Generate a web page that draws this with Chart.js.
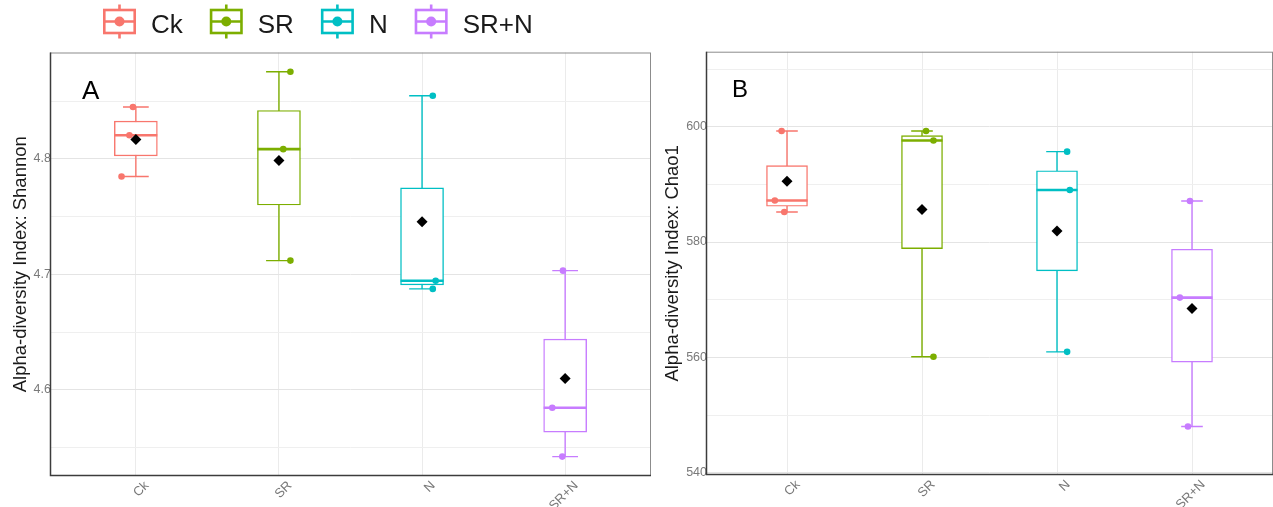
<!DOCTYPE html>
<html>
<head>
<meta charset="utf-8">
<script src="https://cdn.jsdelivr.net/npm/chart.js@4.4.1/dist/chart.umd.min.js"></script>
<style>
html,body{margin:0;padding:0;background:#fff;}
#wrap{position:relative;width:1273px;height:507px;overflow:hidden;background:#fff;}
#ca{position:absolute;left:0;top:0;}
#cb{position:absolute;left:652px;top:0;}
</style>
</head>
<body>
<div id="wrap">
  <canvas id="ca" width="655" height="507"></canvas>
  <canvas id="cb" width="621" height="507"></canvas>
</div>
<script>
// ---------- data ----------
const categories = ['Ck', 'SR', 'N', 'SR+N'];
const groupColors = ['#F8766D', '#7CAE00', '#00BFC4', '#C77CFF'];

// Panel A: Shannon
const shannonPoints = [
  [4.8450, 4.8205, 4.7848],
  [4.8755, 4.8085, 4.7120],
  [4.8548, 4.6945, 4.6875],
  [4.7033, 4.5846, 4.5423]
];
const shannonJitter = [
  [-0.02, -0.045, -0.10],
  [0.08, 0.03, 0.08],
  [0.075, 0.095, 0.075],
  [-0.015, -0.09, -0.02]
];
const shannonMin    = [4.7848, 4.7120, 4.6875, 4.5423];
const shannonQ1     = [4.8027, 4.7602, 4.6910, 4.5635];
const shannonMedian = [4.8205, 4.8085, 4.6945, 4.5846];
const shannonQ3     = [4.8328, 4.8420, 4.7750, 4.6440];
const shannonMax    = [4.8450, 4.8755, 4.8548, 4.7033];
const shannonMean   = [4.8168, 4.7987, 4.7456, 4.6100];

// Panel B: Chao1
const chaoPoints = [
  [599.25, 587.20, 585.20],
  [599.25, 597.60, 560.10],
  [595.67, 589.03, 560.95],
  [587.12, 570.36, 548.00]
];
const chaoJitter = [
  [-0.04, -0.09, -0.02],
  [0.03, 0.085, 0.085],
  [0.075, 0.095, 0.075],
  [-0.015, -0.09, -0.03]
];
const chaoMin    = [585.20, 560.10, 560.95, 548.00];
const chaoQ1     = [586.20, 578.85, 575.00, 559.18];
const chaoMedian = [587.20, 597.60, 589.03, 570.36];
const chaoQ3     = [593.25, 598.45, 592.35, 578.74];
const chaoMax    = [599.25, 599.25, 595.67, 587.12];
const chaoMean   = [590.55, 585.65, 581.90, 568.45];

// ---------- rendering ----------
Chart.defaults.font.family = "'Liberation Sans', Arial, Helvetica, sans-serif";
Chart.defaults.animation = false;

const decorPlugin = {
  id: 'decor',
  afterDraw(chart, args, o) {
    const ctx = chart.ctx, a = chart.chartArea;
    ctx.save();
    // panel border
    ctx.strokeStyle = '#8c8c8c';
    ctx.lineWidth = 1;
    ctx.strokeRect(a.left + 0.5, a.top + 0.5, a.right - a.left - 1, a.bottom - a.top - 1);
    ctx.strokeStyle = '#3c3c3c';
    ctx.lineWidth = 1.5;
    ctx.beginPath();
    ctx.moveTo(a.left + 0.5, a.top);
    ctx.lineTo(a.left + 0.5, a.bottom - 0.5);
    ctx.lineTo(a.right, a.bottom - 0.5);
    ctx.stroke();
    // panel tag
    ctx.fillStyle = '#000';
    ctx.font = o.tagFont;
    ctx.textBaseline = 'alphabetic';
    ctx.fillText(o.tag, a.left + o.tagDx, a.top + o.tagDy);
    // legend
    if (o.legend) {
      let x = 103;
      const cy = 21.5;
      ctx.font = "26px 'Liberation Sans', Arial, sans-serif";
      categories.forEach((c, i) => {
        const col = groupColors[i];
        ctx.strokeStyle = col;
        ctx.lineWidth = 2.6;
        ctx.strokeRect(x + 1.3, cy - 11.5, 30.4, 23);
        ctx.beginPath();
        ctx.moveTo(x + 16.5, cy - 17); ctx.lineTo(x + 16.5, cy - 11.5);
        ctx.moveTo(x + 16.5, cy + 11.5); ctx.lineTo(x + 16.5, cy + 17);
        ctx.moveTo(x + 1.3, cy); ctx.lineTo(x + 31.7, cy);
        ctx.stroke();
        ctx.fillStyle = col;
        ctx.beginPath();
        ctx.arc(x + 16.5, cy, 5, 0, Math.PI * 2);
        ctx.fill();
        ctx.fillStyle = '#1a1a1a';
        ctx.fillText(c, x + 48, 32.5);
        x += 48 + ctx.measureText(c).width + 27;
      });
    }
    ctx.restore();
  }
};

function buildDatasets(p) {
  const ds = [];
  ds.push({
    type: 'scatter', label: 'Mean',
    data: categories.map((c, i) => ({x: i, y: p.mean[i]})),
    pointStyle: 'rectRot', pointRadius: 5.5,
    backgroundColor: '#000', borderColor: '#000', borderWidth: 0, order: 0
  });
  const pts = [], pcol = [];
  categories.forEach((c, i) => p.points[i].forEach((v, j) => {
    pts.push({x: i + p.jitter[i][j], y: v});
    pcol.push(groupColors[i]);
  }));
  ds.push({
    type: 'scatter', label: 'Samples', data: pts,
    pointRadius: 3.3, backgroundColor: pcol, borderColor: pcol, borderWidth: 0, order: 1
  });
  categories.forEach((c, i) => ds.push({
    type: 'line', label: c + ' median',
    data: [{x: i - p.boxHalf, y: p.median[i]}, {x: i + p.boxHalf, y: p.median[i]}],
    borderColor: groupColors[i], borderWidth: 2.6, pointRadius: 0, borderCapStyle: 'butt', order: 2
  }));
  ds.push({
    type: 'bar', label: 'IQR',
    data: categories.map((c, i) => ({x: i, y: [p.q1[i], p.q3[i]]})),
    backgroundColor: '#ffffff', borderColor: groupColors, borderWidth: 1.4,
    borderSkipped: false, barThickness: p.barPx, grouped: false, order: 3
  });
  categories.forEach((c, i) => {
    const h = p.capHalf;
    ds.push({
      type: 'line', label: c + ' whisker',
      data: [
        {x: i - h, y: p.max[i]}, {x: i + h, y: p.max[i]}, {x: i, y: null},
        {x: i, y: p.max[i]}, {x: i, y: p.min[i]}, {x: i, y: null},
        {x: i - h, y: p.min[i]}, {x: i + h, y: p.min[i]}
      ],
      borderColor: groupColors[i], borderWidth: 1.4, pointRadius: 0,
      spanGaps: false, borderCapStyle: 'butt', order: 4
    });
  });
  return ds;
}

function isMajor(v, step) { return Math.round(v / step) % 2 === 0; }

function makeChart(canvas, p) {
  return new Chart(canvas, {
    type: 'scatter',
    data: {datasets: buildDatasets(p)},
    options: {
      responsive: false, animation: false, events: [],
      layout: {padding: p.padding, autoPadding: false},
      plugins: {
        legend: {display: false}, tooltip: {enabled: false},
        decor: {tag: p.tag, tagFont: p.tagFont, tagDx: p.tagDx, tagDy: p.tagDy, legend: p.legend}
      },
      scales: {
        x: {
          type: 'linear', min: -0.6, max: 3.6, offset: false,
          grid: {color: '#EBEBEB', lineWidth: 1, drawTicks: false, offset: false},
          border: {display: false},
          ticks: {
            stepSize: 1, includeBounds: false, autoSkip: false,
            minRotation: 45, maxRotation: 45, padding: 2, labelOffset: 11,
            color: '#7a7a7a', font: {size: 13},
            callback: v => (categories[v] !== undefined ? categories[v] : '')
          },
          afterFit: s => { s.height = p.xAxisHeight; s.paddingLeft = 0; s.paddingRight = 0; }
        },
        y: {
          type: 'linear', min: p.yMin, max: p.yMax,
          grid: {
            color: c => isMajor(c.tick.value, p.step) ? '#E4E4E4' : '#EFEFEF',
            lineWidth: 1, drawTicks: false
          },
          border: {display: false},
          ticks: {
            stepSize: p.step, includeBounds: false, padding: -1,
            color: '#7a7a7a', font: {size: 12.5},
            callback: v => isMajor(v, p.step) ? v.toFixed(p.decimals) : ''
          },
          title: {
            display: true, text: p.title, color: '#1a1a1a',
            font: {size: 18.5}, padding: {top: 10, bottom: 0}
          },
          afterFit: s => { s.width = p.yAxisWidth; s.paddingTop = 0; s.paddingBottom = 0; }
        }
      }
    },
    plugins: [decorPlugin]
  });
}

makeChart(document.getElementById('ca'), {
  points: shannonPoints, jitter: shannonJitter,
  min: shannonMin, q1: shannonQ1, median: shannonMedian, q3: shannonQ3, max: shannonMax, mean: shannonMean,
  yMin: 4.5255, yMax: 4.8922, step: 0.05, decimals: 1,
  title: 'Alpha-diversity Index: Shannon',
  tag: 'A', tagFont: "26px 'Liberation Sans', Arial, sans-serif", tagDx: 32, tagDy: 46.5,
  legend: true,
  padding: {left: 0, top: 52.5, right: 4, bottom: 0},
  yAxisWidth: 50, xAxisHeight: 31,
  barPx: 43, boxHalf: 0.15, capHalf: 0.09
});

makeChart(document.getElementById('cb'), {
  points: chaoPoints, jitter: chaoJitter,
  min: chaoMin, q1: chaoQ1, median: chaoMedian, q3: chaoQ3, max: chaoMax, mean: chaoMean,
  yMin: 539.6, yMax: 613.0, step: 10, decimals: 0,
  title: 'Alpha-diversity Index: Chao1',
  tag: 'B', tagFont: "24px 'Liberation Sans', Arial, sans-serif", tagDx: 26, tagDy: 45.3,
  legend: false,
  padding: {left: 0, top: 51.7, right: 0, bottom: 0},
  yAxisWidth: 54, xAxisHeight: 32,
  barPx: 41, boxHalf: 0.152, capHalf: 0.08
});
</script>
</body>
</html>
